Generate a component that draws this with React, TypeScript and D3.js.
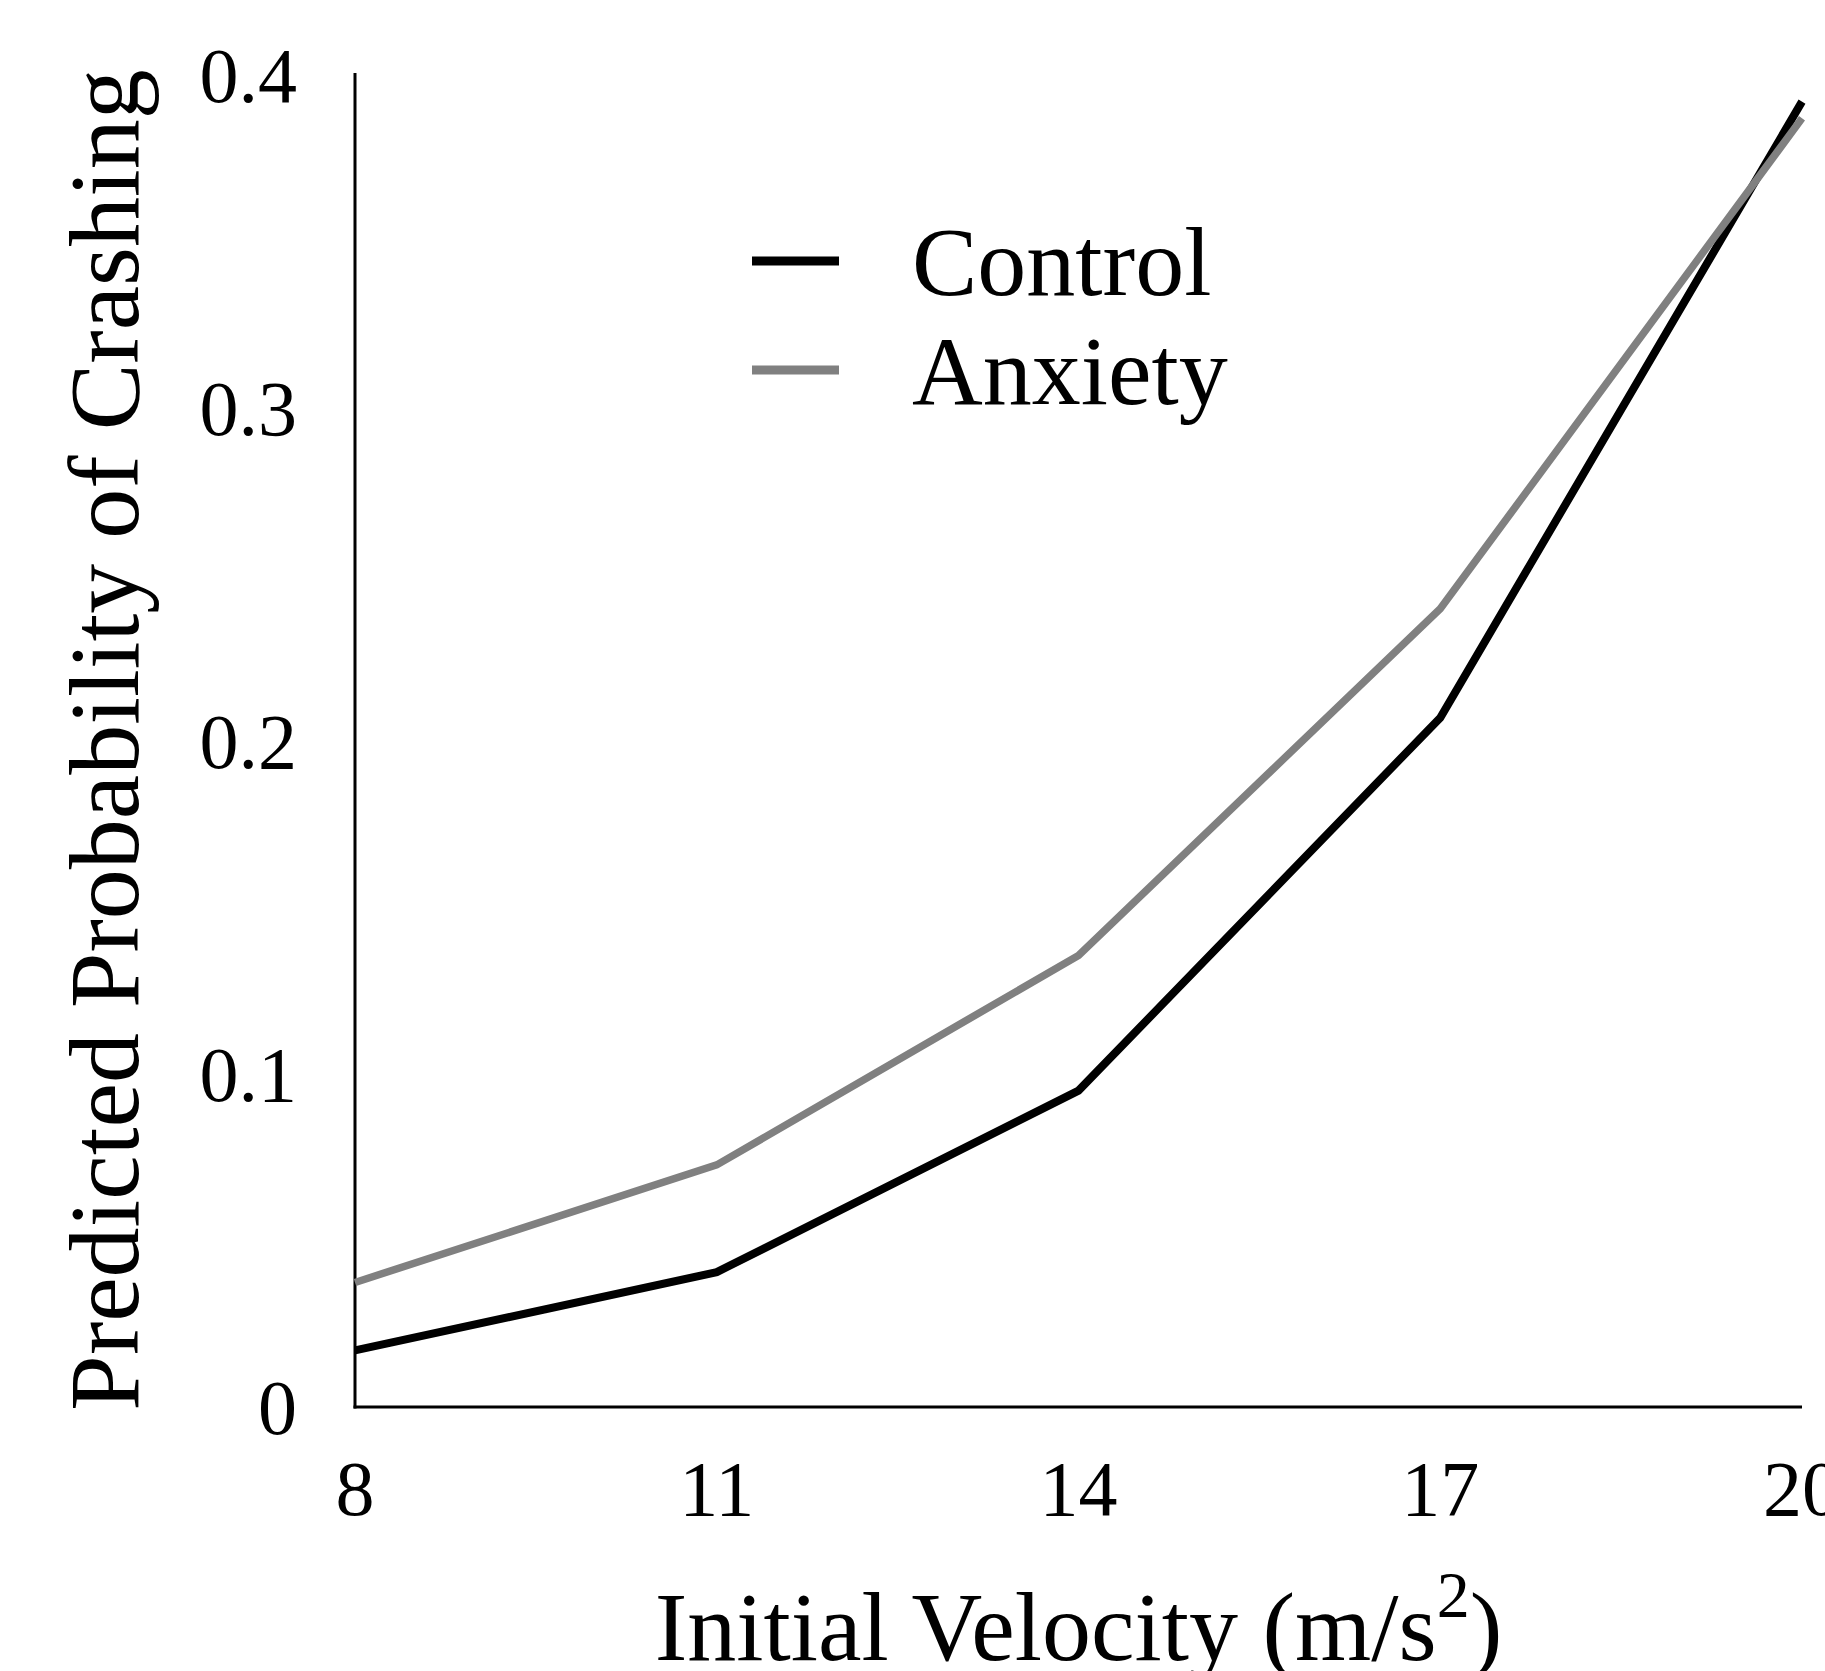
import { useEffect, useRef } from 'react';
import * as d3 from 'd3';

const velocities = [8, 11, 14, 17, 20];
const controlValues = [0.017, 0.0405, 0.095, 0.207, 0.392];
const anxietyValues = [0.0374, 0.0727, 0.1356, 0.2397, 0.387];
const yTicks = [0, 0.1, 0.2, 0.3, 0.4];
const seriesNames = ['Control', 'Anxiety'];
const seriesColors = ['#000000', '#808080'];

const [width, height] = [1825, 1671];
const margin = { top: 73, right: 23, bottom: 264, left: 355 };
const font = '"Liberation Serif", "Times New Roman", serif';

const xScale = d3.scaleLinear()
    .domain([8, 20])
    .range([margin.left, width - margin.right]);
const yScale = d3.scaleLinear()
    .domain([0, 0.4])
    .range([height - margin.bottom, 75]);

function App() {
    const node = useRef<SVGSVGElement | null>(null);
    useEffect(() => {
        if (!node.current) return;
        const board = d3.select(node.current);
        board.selectAll('*').remove();

        const x0 = margin.left, y0 = height - margin.bottom;

        /** Axes lines */
        board.append('line')
            .attr('x1', x0).attr('x2', x0)
            .attr('y1', margin.top).attr('y2', y0 + 1.5)
            .attr('stroke', '#000').attr('stroke-width', 3);
        board.append('line')
            .attr('x1', x0 - 1.5).attr('x2', width - margin.right)
            .attr('y1', y0).attr('y2', y0)
            .attr('stroke', '#000').attr('stroke-width', 3);

        /** Tick labels */
        board.append('g').selectAll('text')
            .data(yTicks)
            .enter()
            .append('text')
            .attr('x', x0 - 58)
            .attr('y', d => yScale(d))
            .attr('dy', '0.35em')
            .attr('text-anchor', 'end')
            .attr('font-family', font)
            .attr('font-size', 78)
            .text(d => (d === 0 ? '0' : d3.format('.1f')(d)));

        board.append('g').selectAll('text')
            .data(velocities)
            .enter()
            .append('text')
            .attr('x', d => xScale(d))
            .attr('y', 1515)
            .attr('text-anchor', 'middle')
            .attr('font-family', font)
            .attr('font-size', 78)
            .text(d => d);

        /** Lines */
        const line = d3.line<number>()
            .x((d, i) => xScale(velocities[i]))
            .y(d => yScale(d));
        [controlValues, anxietyValues].forEach((vals, i) => {
            board.append('path')
                .datum(vals)
                .attr('d', line)
                .attr('fill', 'none')
                .attr('stroke', seriesColors[i])
                .attr('stroke-width', i === 0 ? 8 : 7.5)
                .attr('stroke-linejoin', 'miter');
        });

        /** Legend */
        const legend = board.append('g');
        seriesNames.forEach((name, i) => {
            const ly = 261 + i * 109;
            legend.append('line')
                .attr('x1', 752).attr('x2', 839)
                .attr('y1', ly).attr('y2', ly)
                .attr('stroke', seriesColors[i])
                .attr('stroke-width', 9);
            legend.append('text')
                .attr('x', 912)
                .attr('y', ly + 34)
                .attr('font-family', font)
                .attr('font-size', 98)
                .text(name);
        });

        /** Axis titles */
        const xt = board.append('text')
            .attr('x', (x0 + width - margin.right) / 2)
            .attr('y', 1660)
            .attr('text-anchor', 'middle')
            .attr('font-family', font)
            .attr('font-size', 98);
        xt.append('tspan').text('Initial Velocity (m/s');
        xt.append('tspan').attr('font-size', 66).attr('dy', -43).text('2');
        xt.append('tspan').attr('dy', 43).text(')');

        board.append('text')
            .attr('transform', `translate(138, ${(margin.top + y0) / 2}) rotate(-90)`)
            .attr('text-anchor', 'middle')
            .attr('font-family', font)
            .attr('font-size', 100)
            .text('Predicted Probability of Crashing');
    }, [node]);

    return (
        <svg ref={node} width={width} height={height}
             style={{ position: 'absolute', left: 0, top: 0, background: '#fff' }} />
    );
}

export default App;
